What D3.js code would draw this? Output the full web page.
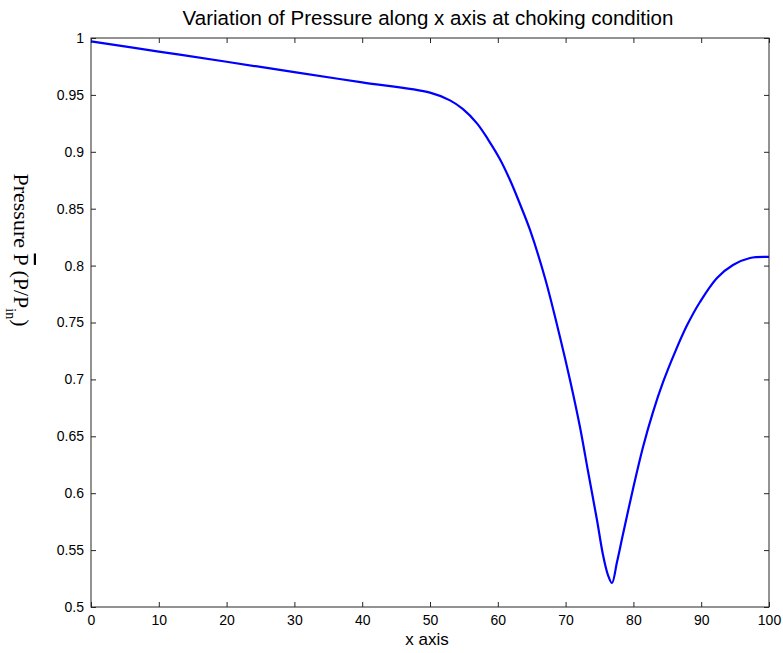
<!DOCTYPE html>
<html>
<head>
<meta charset="utf-8">
<script src="https://cdn.jsdelivr.net/npm/d3@7"></script>
<style>
  html, body { margin: 0; padding: 0; background: #fff; }
  svg { display: block; }
</style>
</head>
<body>
<script>
// Normalised pressure along the duct axis (choked flow)
const xPos = [0, 10, 20, 30, 40, 50, 52.95, 54.87, 56.93, 58.55, 60.32, 61.80, 63.27, 64.75,
  66.96, 69.17, 70.65, 72.12, 73.30, 74.63, 75.52, 76.25, 76.84, 77.58, 78.47, 79.94, 81.42,
  82.89, 84.37, 86.14, 87.91, 89.82, 92.33, 94.69, 97.20, 100];
const pressure = [0.9971, 0.9881, 0.9791, 0.9700, 0.9610, 0.9520, 0.9452, 0.9375, 0.9250, 0.9110,
  0.8935, 0.8752, 0.8541, 0.8313, 0.7891, 0.7373, 0.6995, 0.6582, 0.6195, 0.5764, 0.5457, 0.5281,
  0.5211, 0.5395, 0.5641, 0.6037, 0.6406, 0.6713, 0.6975, 0.7240, 0.7475, 0.7680, 0.7891, 0.8005,
  0.8067, 0.8076];
const xTicks = [0, 10, 20, 30, 40, 50, 60, 70, 80, 90, 100];
const yTicks = [0.5, 0.55, 0.6, 0.65, 0.7, 0.75, 0.8, 0.85, 0.9, 0.95, 1];

const W = 783, H = 653;
const m = { left: 91, right: 14, top: 38, bottom: 46 };
const iw = W - m.left - m.right, ih = H - m.top - m.bottom;

const svg = d3.select("body").append("svg").attr("width", W).attr("height", H);
const g = svg.append("g").attr("transform", `translate(${m.left},${m.top})`);

const x = d3.scaleLinear().domain([0, 100]).range([0, iw]);
const y = d3.scaleLinear().domain([0.5, 1]).range([ih, 0]);

const axisColor = "#262626";
const sans = "Liberation Sans, Arial, sans-serif";

function styleAxis(sel, showLabels) {
  sel.select(".domain").remove();
  sel.selectAll(".tick line").attr("stroke", axisColor).attr("stroke-width", 1);
  sel.selectAll(".tick text")
    .attr("fill", showLabels ? "#000" : "none")
    .style("font-family", sans).style("font-size", "14px");
}

// bottom / left axes carry labels, top / right repeat the inward ticks
g.append("g").attr("transform", `translate(0,${ih})`)
  .call(d3.axisBottom(x).tickValues(xTicks).tickSize(-5).tickPadding(8).tickFormat(d3.format("d")))
  .call(s => styleAxis(s, true));
g.append("g")
  .call(d3.axisTop(x).tickValues(xTicks).tickSize(-5).tickFormat(""))
  .call(s => styleAxis(s, false));
g.append("g")
  .call(d3.axisLeft(y).tickValues(yTicks).tickSize(-5).tickPadding(7).tickFormat(d => String(+d.toFixed(2))))
  .call(s => styleAxis(s, true));
g.append("g").attr("transform", `translate(${iw},0)`)
  .call(d3.axisRight(y).tickValues(yTicks).tickSize(-5).tickFormat(""))
  .call(s => styleAxis(s, false));

// frame
g.append("rect").attr("x", 0).attr("y", 0).attr("width", iw).attr("height", ih)
  .attr("fill", "none").attr("stroke", axisColor).attr("stroke-width", 1);

// pressure curve
const pts = xPos.map((d, i) => [d, pressure[i]]);
g.append("path")
  .datum(pts)
  .attr("fill", "none")
  .attr("stroke", "#0000ff")
  .attr("stroke-width", 2.2)
  .attr("stroke-linejoin", "round")
  .attr("d", d3.line().x(d => x(d[0])).y(d => y(d[1])).curve(d3.curveCatmullRom.alpha(0.5)));

// title
svg.append("text")
  .attr("x", m.left + iw / 2 - 2).attr("y", 25)
  .attr("text-anchor", "middle")
  .style("font-family", sans).style("font-size", "20.5px")
  .text("Variation of Pressure along x axis at choking condition");

// x label
svg.append("text")
  .attr("x", m.left + iw / 2 - 3).attr("y", 645)
  .attr("text-anchor", "middle")
  .style("font-family", sans).style("font-size", "17px")
  .text("x axis");

// y label, reading top to bottom
const yl = svg.append("text")
  .attr("transform", "translate(14,250) rotate(90)")
  .attr("text-anchor", "middle")
  .style("font-family", "Liberation Serif, 'Times New Roman', serif").style("font-size", "22px");
yl.append("tspan").text("Pressure ");
yl.append("tspan").style("text-decoration", "overline").text("P");
yl.append("tspan").text(" (P/P");
yl.append("tspan").attr("baseline-shift", "sub").style("font-size", "14px").text("in");
yl.append("tspan").text(")");
</script>
</body>
</html>
